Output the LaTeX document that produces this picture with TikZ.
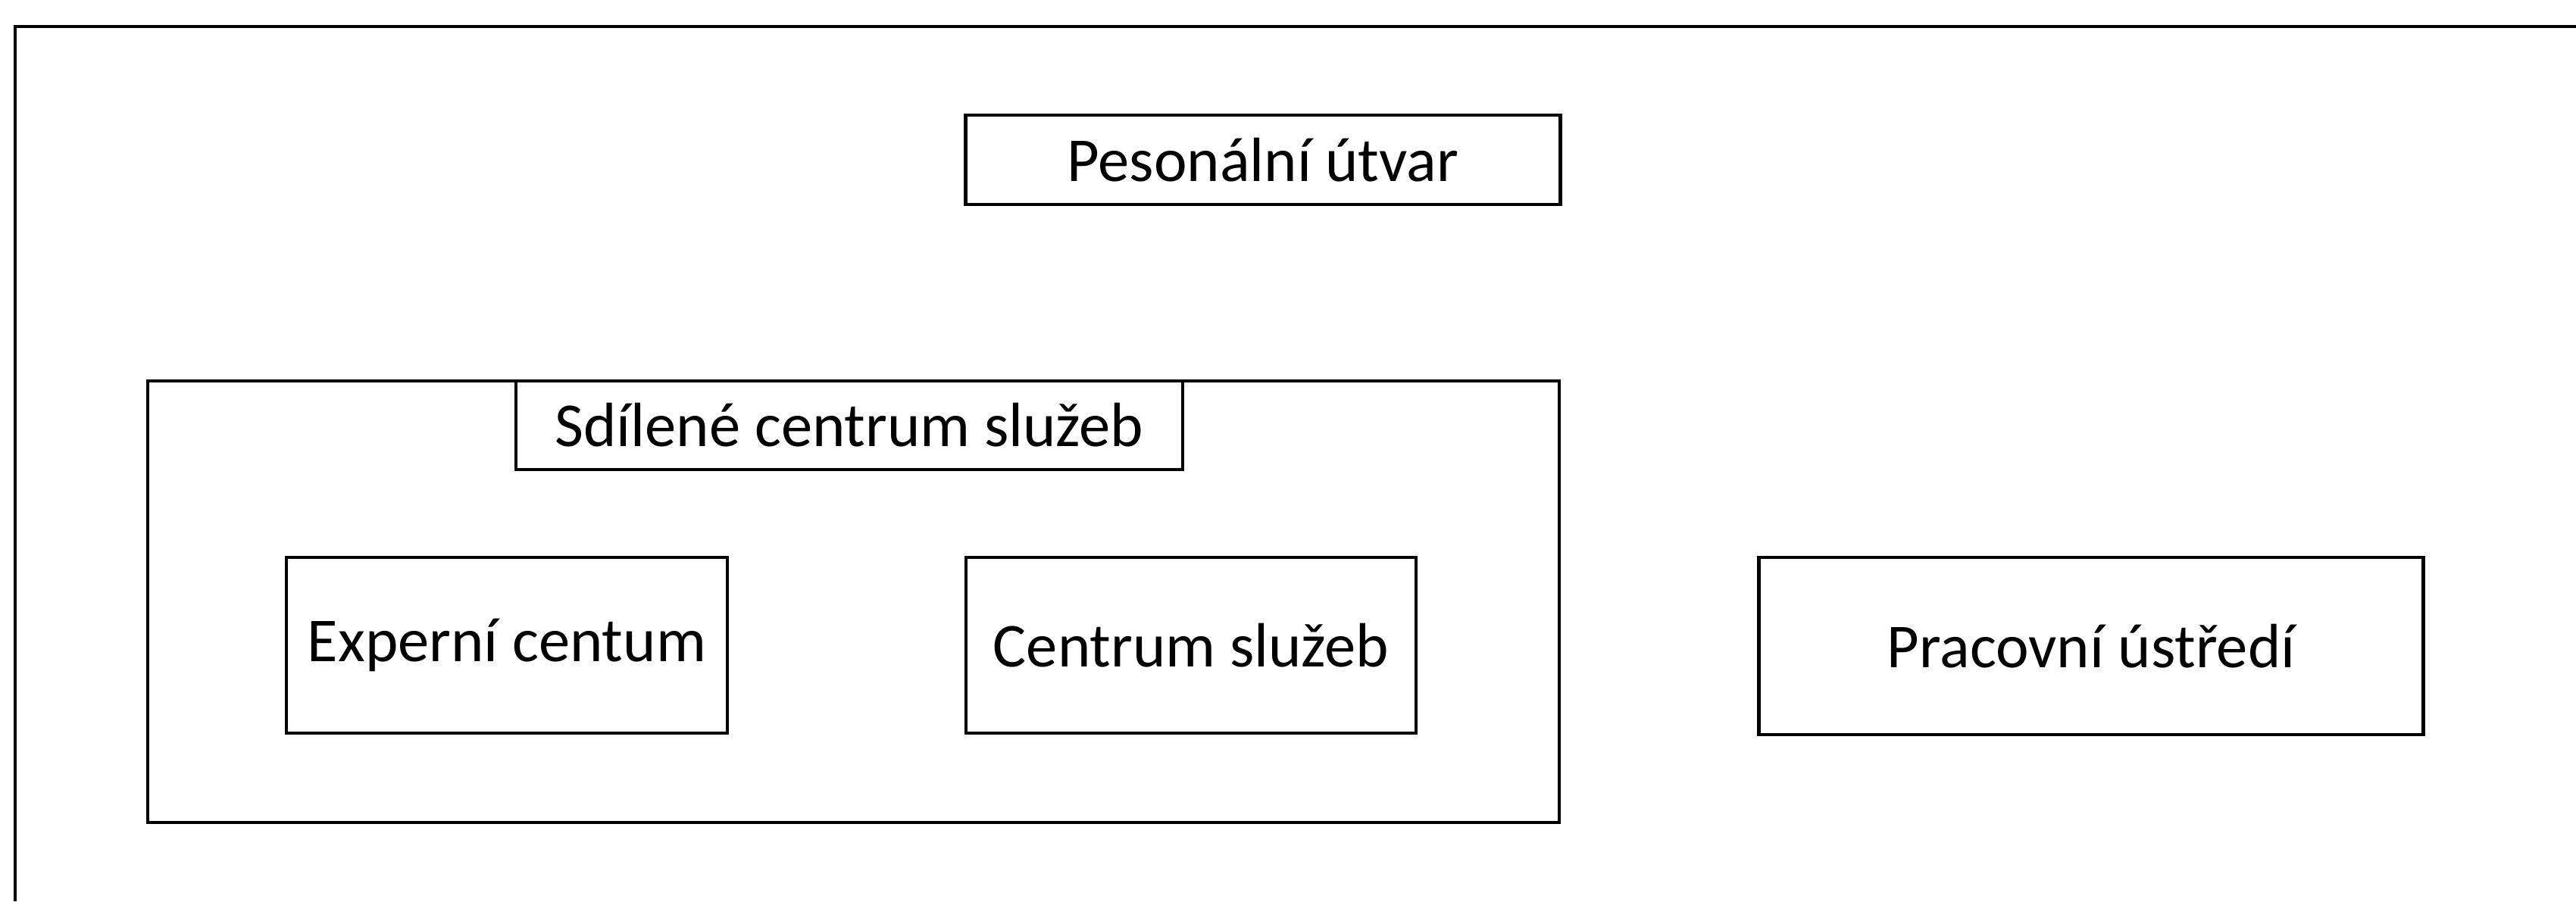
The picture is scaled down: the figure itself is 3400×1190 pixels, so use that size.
\documentclass[tikz,border=0pt]{standalone}
\usepackage{fontspec}
\setmainfont{Carlito}
\tikzset{
	unitbox/.style={draw, line width=1.2pt, inner sep=0pt, font=\fontsize{23.5}{28}\selectfont},
}
\begin{document}
\begin{tikzpicture}[x=0.1mm,y=-0.1mm]
				\useasboundingbox (0,0) rectangle (3400,1190);
				\draw [line width=1.3pt] (20,1190)-- (20,35)-- (3400,35);
				\node [unitbox, minimum width=78.5mm, minimum height=11.8mm] (perso) at (1667,211) {Pesonální útvar};
				\node [unitbox, minimum width=186.3mm, minimum height=58.3mm] (sdilene) at (1126.5,794.5) {};
				\node [unitbox, minimum width=88mm, minimum height=11.7mm] (sdlabel) at (1121,561.5) {Sdílené centrum služeb};
				\node [unitbox, minimum width=58.2mm, minimum height=23.2mm] (expert) at (669,852) {Experní centum};
				\node [unitbox, minimum width=59.4mm, minimum height=23.2mm] (centrum) at (1572,852) {Centrum služeb};
				\node [unitbox, minimum width=87.7mm, minimum height=23.4mm] (pracovni) at (2760,853) {Pracovní ústředí};
			\end{tikzpicture}
\end{document}
